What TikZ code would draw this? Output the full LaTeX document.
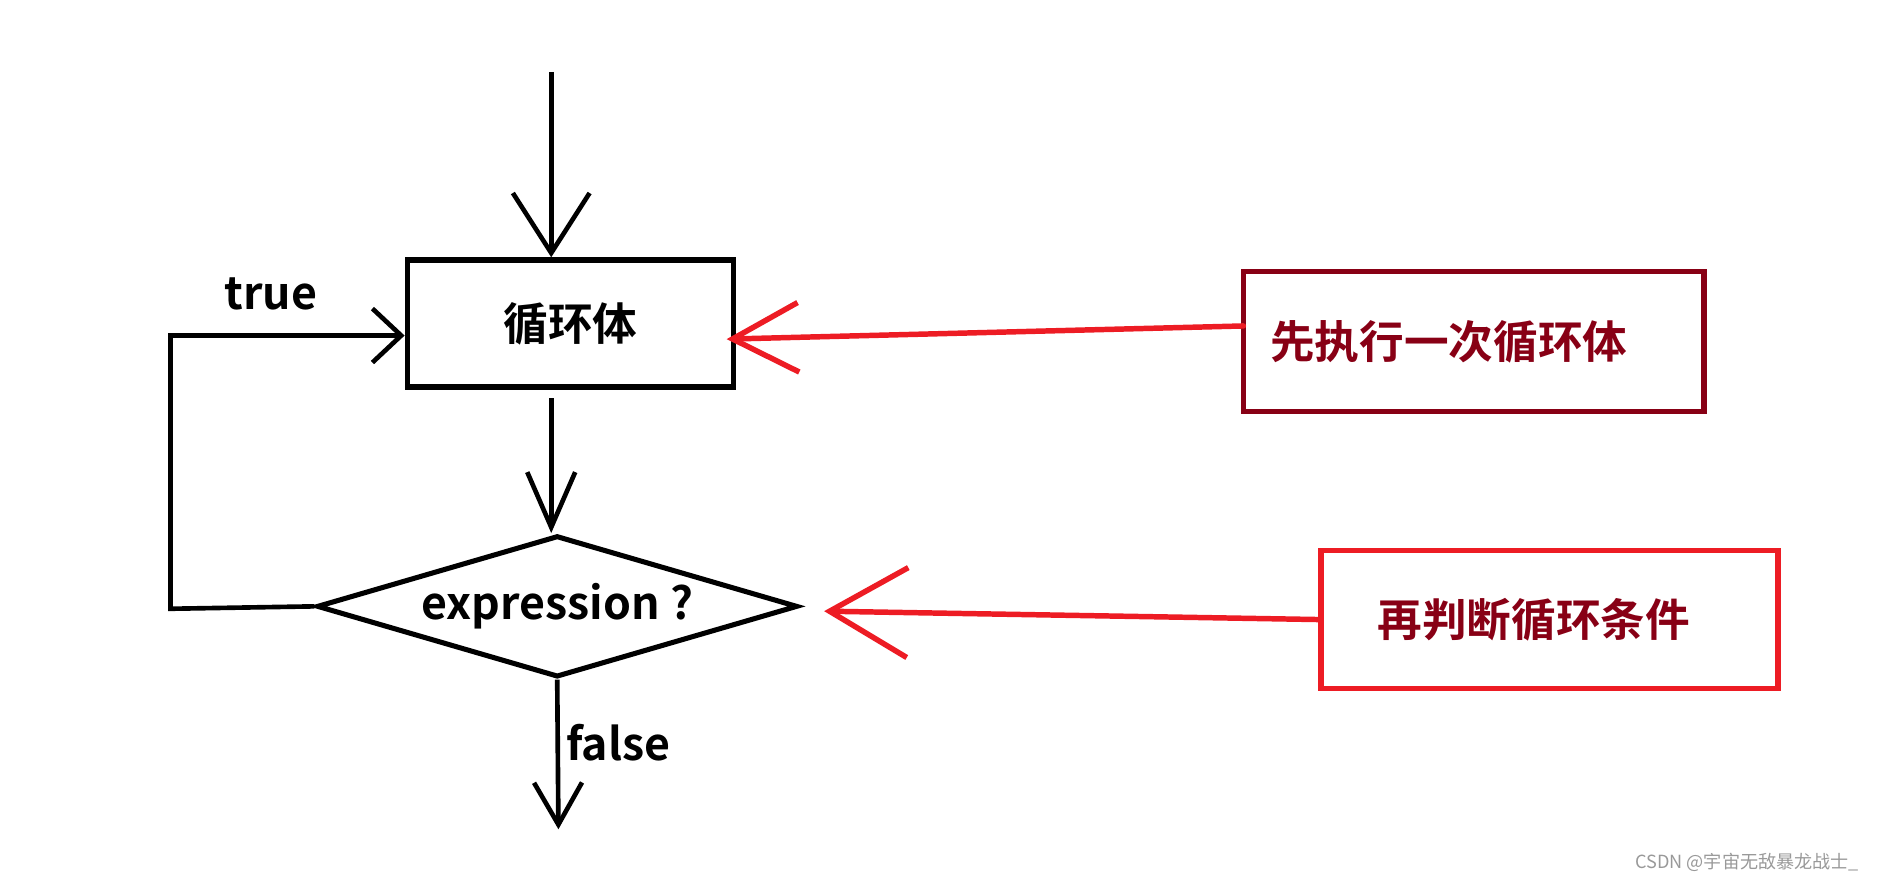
\documentclass[tikz,border=0pt]{standalone}
\usepackage{fontspec}
\newfontfamily\cjk{Noto Sans CJK SC}[BoldFont={Noto Sans CJK SC Bold}]
\usetikzlibrary{shapes,shapes.geometric,arrows.meta,calc}
\definecolor{paintred}{HTML}{ED1C24}
\definecolor{paintdark}{HTML}{880015}
\tikzset{
	x=0.01cm, y=-0.01cm,
	flow_line/.style = {line width=1.1pt, black},
	flow_txt/.style = {font=\cjk\bfseries\fontsize{10.6pt}{13pt}\selectfont, inner sep=0pt},
	flow_box/.style = {draw=black, line width=1.3pt, minimum width=2.72cm, minimum height=1.06cm, flow_txt},
	flow_cond/.style = {diamond, draw=black, line width=1.2pt, aspect=3.4, inner sep=0pt, minimum width=4.01cm, minimum height=1.18cm, flow_txt},
	note_n/.style = {draw=paintdark, line width=1.3pt, flow_txt, text=paintdark, align=left, minimum height=1.17cm},
	note_r/.style = {note_n, draw=paintred, minimum height=1.15cm},
	note_arrow/.style = {paintred, line width=1.3pt, line cap=round}
}
\begin{document}
\begin{tikzpicture}
	\useasboundingbox (0,0) rectangle (1568,736);
	% flow chart
	\coordinate (top) at (460,60);
	\node [flow_box] (body) at (476,270) {循环体};
	\node [flow_cond] (cond) at (465,506) {expression ?};
	\coordinate (out) at (466,692);
	\draw [flow_line, -{Straight Barb[length=0.5cm, width=0.64cm]}] (top) -- (top |- body.north);
	\draw [flow_line, -{Straight Barb[length=0.46cm, width=0.4cm]}] ($(body.south -| top)+(0,7)$) -- (cond.north -| top);
	\draw [flow_line, -{Straight Barb[length=0.35cm, width=0.4cm]}] (cond.south) -- (out);
	\draw [flow_line, -{Straight Barb[length=0.24cm, width=0.45cm]}] (cond.west) -- ++(-120,2) |- ($(body.west)+(0,10)$);
	\node [flow_txt] (true) at (226,245) {true};
	\node [flow_txt] (false) at (516,620) {false};
	% notes
	\node [note_n, text width=3.4cm, inner xsep=0.22cm] (note1) at (1230,285) {先执行一次循环体};
	\node [note_r, text width=2.87cm, inner xsep=0.47cm] (note2) at (1293,517) {再判断循环条件};
	\draw [note_arrow, -{Straight Barb[length=0.55cm, width=0.58cm]}] ($(note1.west)+(2,-13)$) -- ($(body.east)+(-8,13)$);
	\draw [note_arrow, -{Straight Barb[length=0.65cm, width=0.75cm]}] (note2.west) -- ($(cond.east)+(20,4)$);
	% watermark
	\node [font=\cjk\fontsize{4.3pt}{5pt}\selectfont, text=black!40, anchor=east, inner sep=0pt] (mark) at (1552,720) {CSDN @宇宙无敌暴龙战士\_};
\end{tikzpicture}
\end{document}
